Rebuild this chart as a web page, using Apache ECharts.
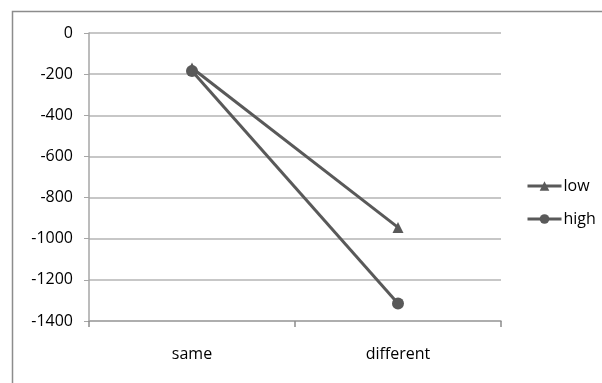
<!DOCTYPE html>
<html>
<head>
<meta charset="utf-8">
<script src="https://cdn.jsdelivr.net/npm/echarts@6/dist/echarts.min.js"></script>
<style>html,body{margin:0;padding:0;background:#fff;}#c{width:602px;height:383px;}</style>
</head>
<body>
<div id="c"></div>
<script>
var categories = ['same', 'different'];
var lowValues = [-170, -945];
var highValues = [-185, -1315];
var seriesNames = ['low', 'high'];
var yMin = -1400, yMax = 0, yStep = 200;

var chart = echarts.init(document.getElementById('c'), null, {renderer: 'canvas'});
var gray = '#595959';
chart.setOption({
  animation: false,
  backgroundColor: '#fff',
  textStyle: {fontFamily: 'Open Sans', color: '#000'},
  graphic: [{
    type: 'rect', left: 10, top: 9, z: -1,
    shape: {x: 0, y: 0, width: 800, height: 600},
    style: {fill: 'none', stroke: '#8c8c8c', lineWidth: 1.5}
  }],
  grid: {left: 89, right: 101, top: 33, bottom: 62, containLabel: false},
  legend: {
    orient: 'vertical', left: 521, top: 173,
    itemWidth: 34, itemHeight: 12, itemGap: 17,
    lineStyle: {width: 3},
    textStyle: {fontSize: 16, color: '#000', fontFamily: 'Open Sans', padding: [0,0,0,-3]},
    data: seriesNames
  },
  xAxis: {
    type: 'category', data: categories, boundaryGap: true, position: 'bottom',
    axisLine: {onZero: false, lineStyle: {color: '#a6a6a6', width: 1.5}},
    axisTick: {show: true, length: 6, lineStyle: {color: '#8c8c8c', width: 1.5}},
    axisLabel: {margin: 25, fontSize: 16, color: '#000'}
  },
  yAxis: {
    type: 'value', min: yMin, max: yMax, interval: yStep,
    axisLine: {show: true, lineStyle: {color: '#a6a6a6', width: 1.5}},
    axisTick: {show: true, length: 5, lineStyle: {color: '#a6a6a6'}},
    splitLine: {lineStyle: {color: '#b4b4b4', width: 1.5}},
    axisLabel: {margin: 16, fontSize: 16, color: '#000', formatter: function (v) { return String(v); }}
  },
  series: [
    {name: seriesNames[0], type: 'line', data: lowValues, symbol: 'triangle', symbolSize: 11,
     itemStyle: {color: gray}, lineStyle: {color: gray, width: 3}, z: 3},
    {name: seriesNames[1], type: 'line', data: highValues, symbol: 'circle', symbolSize: 12,
     itemStyle: {color: gray}, lineStyle: {color: gray, width: 3}, z: 2}
  ]
});
</script>
</body>
</html>
